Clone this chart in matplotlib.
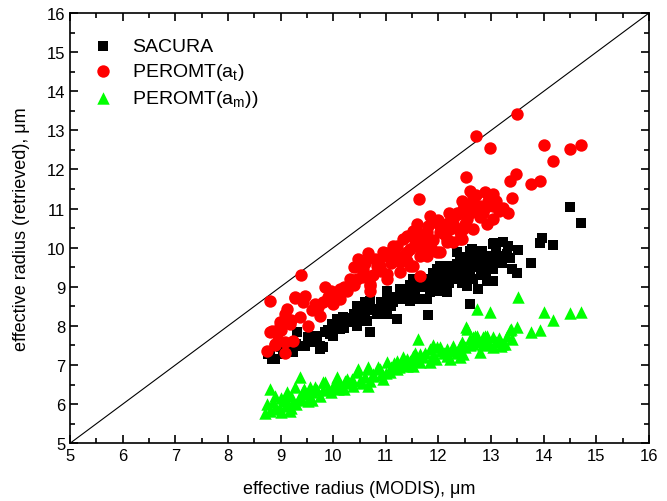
import numpy as np
import matplotlib
matplotlib.use('Agg')
import matplotlib.pyplot as plt
from matplotlib.ticker import MultipleLocator

plt.rcParams['font.family'] = ['Liberation Sans', 'DejaVu Sans']
plt.rcParams['mathtext.fontset'] = 'custom'
plt.rcParams['mathtext.rm'] = 'Liberation Sans'
plt.rcParams['mathtext.it'] = 'Liberation Sans'

# SACURA retrievals (x = MODIS radius, y = retrieved radius)
sacura_x = [8.77, 8.84, 8.90, 8.80, 9.05, 9.09, 9.18, 9.24, 9.32, 9.43, 9.47, 9.52,
            9.66, 9.70, 9.75, 9.75, 9.81, 9.85, 9.94, 10.00, 9.98, 10.08, 10.13, 10.19,
            10.32, 10.32, 10.32, 10.46, 10.46, 10.51, 10.51, 10.57, 10.65, 10.70, 10.70,
            10.84, 10.89, 11.03, 11.03, 11.03, 11.14, 11.22, 11.27, 11.41, 11.46, 11.52,
            11.60, 11.60, 11.79, 11.79, 11.81, 11.84, 11.98, 12.03, 12.03, 12.09, 12.17,
            12.17, 12.22, 12.36, 12.36, 12.41, 12.47, 12.55, 12.55, 12.55, 12.60, 12.60,
            12.64, 12.66, 12.76, 12.79, 12.79, 12.83, 12.93, 13.04, 13.04, 13.04, 13.04,
            13.06, 13.23, 13.33, 13.36, 13.40, 13.49, 13.52, 13.75, 13.92, 13.97, 14.18,
            14.49, 14.70,
            11.30, 11.50, 11.70, 11.90, 12.10, 12.30, 12.70, 12.90, 12.20, 11.10, 10.90,
            10.60, 12.45, 12.90, 13.15, 12.00, 11.65, 12.50, 12.80, 12.35, 11.95,
            9.00, 9.30, 9.55, 9.90, 10.10, 10.25, 10.40, 10.75, 10.95, 11.15, 11.35,
            11.55, 11.75, 11.95, 12.15, 12.25, 12.40, 12.45, 12.60, 12.70, 12.85, 12.95,
            13.00, 13.10, 13.20, 13.30, 12.50, 12.75, 11.90, 12.05, 11.45, 10.60, 10.20]
sacura_y = [7.28, 7.15, 7.15, 7.35, 7.28, 7.33, 7.35, 7.33, 7.84, 7.48, 7.48, 7.71,
            7.74, 7.61, 7.48, 7.40, 7.46, 7.84, 7.79, 7.74, 8.04, 8.17, 7.92, 8.22,
            8.12, 8.09, 8.17, 8.50, 7.99, 8.17, 8.48, 8.25, 8.12, 7.84, 8.63,
            8.30, 8.43, 8.30, 8.76, 8.89, 8.61, 8.17, 8.94, 8.94, 8.63, 9.19,
            9.07, 9.19, 9.19, 8.68, 8.28, 8.86, 9.45, 9.12, 9.53, 9.12, 8.86,
            9.37, 9.53, 9.58, 9.88, 9.70, 9.27, 9.19, 9.02, 9.53, 9.91, 8.55,
            9.96, 9.19, 8.94, 9.53, 9.63, 9.91, 9.14, 9.63, 9.45, 9.14, 10.09,
            10.12, 10.14, 10.04, 9.73, 9.45, 9.35, 9.94, 9.60, 10.12, 10.24, 10.06,
            11.04, 10.63,
            8.70, 8.85, 9.00, 9.05, 9.30, 9.40, 9.50, 9.70, 9.10, 8.50, 8.60,
            8.35, 9.45, 9.35, 9.80, 8.90, 8.70, 9.25, 9.30, 9.20, 9.25,
            7.45, 7.55, 7.60, 7.90, 8.05, 8.20, 8.30, 8.40, 8.45, 8.75, 8.80,
            8.95, 9.10, 9.20, 9.45, 9.25, 9.55, 9.10, 9.35, 9.70, 9.45, 9.80,
            9.55, 9.90, 9.60, 9.85, 9.75, 9.85, 9.35, 9.00, 9.05, 8.60, 7.95]

# PEROMT(a_t) retrievals
peromt_t_x = [8.75, 8.80, 8.80, 8.84, 8.90, 8.90, 8.94, 8.99, 8.99, 9.09, 9.09, 9.09,
              9.13, 9.18, 9.24, 9.28, 9.28, 9.37, 9.39, 9.43, 9.47, 9.52, 9.71, 9.75,
              9.85, 9.90, 9.94, 9.98, 10.00, 10.13, 10.13, 10.27, 10.32, 10.46, 10.48,
              10.57, 10.57, 10.61, 10.67, 10.70, 10.70, 10.70, 10.84, 10.89, 10.95, 10.95,
              11.03, 11.03, 11.03, 11.14, 11.22, 11.27, 11.27, 11.33, 11.33, 11.41, 11.46,
              11.46, 11.52, 11.52, 11.52, 11.60, 11.60, 11.63, 11.65, 11.65, 11.71, 11.71,
              11.79, 11.79, 11.81, 11.84, 11.90, 11.98, 12.03, 12.03, 12.03, 12.17, 12.17,
              12.22, 12.24, 12.28, 12.28, 12.38, 12.41, 12.41, 12.45, 12.47, 12.47, 12.53,
              12.55, 12.55, 12.60, 12.66, 12.66, 12.72, 12.72, 12.79, 12.79, 12.89, 12.93,
              12.97, 13.04, 13.04, 13.04, 13.23, 13.33, 13.36, 13.40, 13.48, 13.50, 13.75,
              13.92, 14.00, 14.18, 14.49, 14.70,
              9.00, 9.20, 9.60, 9.80, 10.05, 10.20, 10.40, 10.55, 10.75, 10.90, 11.10,
              11.20, 11.40, 11.55, 11.70, 11.90, 12.00, 12.10, 12.15, 12.30, 12.35, 12.50,
              12.60, 12.70, 12.85, 12.95, 12.20, 11.85, 11.40, 10.80, 10.40, 11.60, 12.45,
              12.65, 12.90, 13.10, 13.15, 9.65, 9.95, 10.60]
peromt_t_y = [7.35, 7.84, 8.63, 7.86, 7.51, 7.53, 7.79, 8.09, 8.00, 7.30, 7.58, 8.30,
              8.43, 8.04, 7.61, 8.71, 8.73, 8.22, 9.30, 8.61, 8.76, 7.99, 8.48, 8.25,
              8.99, 8.73, 8.76, 8.81, 8.55, 8.68, 8.94, 8.89, 9.19, 9.19, 9.71,
              9.37, 9.45, 9.27, 9.86, 9.07, 8.89, 9.02, 9.53, 9.53, 9.78, 9.88,
              9.86, 9.19, 9.32, 10.04, 10.04, 9.63, 9.37, 10.22, 9.78, 10.30, 9.53,
              9.96, 10.30, 10.42, 9.53, 10.42, 10.04, 11.24, 9.78, 9.27, 10.04, 10.22,
              10.40, 9.78, 10.55, 10.81, 10.65, 9.88, 10.55, 10.40, 9.88, 10.14, 10.22,
              10.47, 10.75, 10.73, 10.14, 10.86, 10.22, 10.40, 10.22, 10.98, 10.47, 11.80,
              11.06, 10.73, 11.45, 10.47, 11.16, 12.85, 11.34, 11.06, 10.78, 11.42, 10.60,
              12.54, 11.37, 11.06, 10.73, 11.01, 10.88, 11.70, 11.27, 11.88, 13.41, 11.62,
              11.70, 12.62, 12.21, 12.52, 12.62,
              7.90, 8.15, 8.40, 8.60, 8.80, 9.00, 9.05, 9.25, 9.30, 9.40, 9.60,
              9.80, 9.90, 10.10, 10.30, 10.20, 10.70, 10.35, 10.60, 10.55, 10.90, 10.60,
              10.90, 10.95, 10.90, 11.20, 10.90, 10.00, 9.65, 9.70, 9.50, 10.60, 11.20,
              11.30, 11.05, 11.20, 10.95, 8.55, 8.90, 9.60]

# PEROMT(a_m) retrievals
peromt_m_x = [8.71, 8.80, 8.80, 8.86, 8.99, 9.05, 9.13, 9.18, 9.24, 9.28, 9.37, 9.43,
              9.52, 9.56, 9.75, 9.81, 9.85, 10.00, 10.08, 10.13, 10.23, 10.27, 10.38, 10.46,
              10.48, 10.67, 10.67, 10.67, 10.76, 10.76, 10.89, 10.95, 11.03, 11.08, 11.22,
              11.22, 11.33, 11.41, 11.41, 11.52, 11.52, 11.62, 11.65, 11.65, 11.84, 11.84,
              11.98, 12.03, 12.17, 12.17, 12.22, 12.28, 12.41, 12.41, 12.47, 12.53, 12.55,
              12.60, 12.66, 12.70, 12.74, 12.74, 12.79, 12.85, 12.89, 12.93, 12.97, 13.04,
              13.04, 13.18, 13.27, 13.36, 13.37, 13.40, 13.50, 13.52, 13.75, 13.92, 14.00,
              14.18, 14.49, 14.70,
              8.90, 9.00, 9.10, 9.20, 9.30, 9.40, 9.50, 9.60, 9.70, 9.90, 10.10, 10.30,
              10.50, 10.60, 10.90, 11.10, 11.30, 11.70, 11.90, 12.10, 12.30, 12.60, 12.90,
              13.10,
              8.75, 8.90, 9.00, 9.10, 9.20, 9.35, 9.45, 9.60, 9.65, 9.80, 9.95, 10.05,
              10.20, 10.35, 10.55, 10.70, 10.85, 11.00, 11.15, 11.25, 11.45, 11.60, 11.75,
              11.95, 12.05, 12.25, 12.35, 12.50, 12.65, 12.75, 12.95, 13.15, 13.20, 13.30,
              12.45, 12.85, 11.55, 11.90]
peromt_m_y = [5.77, 5.82, 6.38, 6.05, 5.87, 6.07, 6.30, 5.82, 6.05, 6.43, 6.69, 6.33,
              6.07, 6.43, 6.20, 6.56, 6.56, 6.46, 6.69, 6.51, 6.59, 6.64, 6.46, 6.82,
              6.89, 6.89, 6.46, 6.94, 6.71, 6.76, 6.89, 6.64, 7.07, 6.82, 7.10,
              6.89, 7.20, 6.97, 7.15, 7.22, 6.97, 7.66, 7.28, 7.07, 7.40, 7.07,
              7.45, 7.45, 7.40, 7.22, 7.15, 7.48, 7.48, 7.20, 7.28, 7.97, 7.92,
              7.66, 7.71, 7.74, 8.43, 7.74, 7.33, 7.71, 7.74, 7.74, 8.35, 7.45,
              7.71, 7.48, 7.53, 7.89, 7.92, 7.66, 7.97, 8.73, 7.84, 7.89, 8.35,
              8.15, 8.32, 8.35,
              5.90, 6.15, 5.95, 6.20, 6.00, 6.10, 6.25, 6.30, 6.35, 6.40, 6.40, 6.55,
              6.60, 6.70, 6.75, 6.95, 7.00, 7.20, 7.25, 7.30, 7.35, 7.50, 7.55,
              7.60,
              6.00, 6.20, 5.80, 6.10, 5.90, 6.15, 6.40, 6.10, 6.45, 6.35, 6.30, 6.50,
              6.40, 6.65, 6.55, 6.60, 6.95, 6.80, 7.05, 6.95, 7.10, 7.15, 7.30,
              7.15, 7.35, 7.40, 7.30, 7.45, 7.55, 7.60, 7.60, 7.70, 7.55, 7.75,
              7.60, 7.50, 7.30, 7.50]

fig = plt.figure(figsize=(6.67, 5.02), dpi=100)
ax = fig.add_axes([0.105, 0.115, 0.868, 0.857])

ax.plot([5, 16], [5, 16], color='black', linewidth=0.8, zorder=1)
ax.scatter(sacura_x, sacura_y, marker='s', s=55, color='black', linewidths=0,
           label='SACURA', zorder=2)
ax.scatter(peromt_t_x, peromt_t_y, marker='o', s=80, color='#ff0000', linewidths=0,
           label='PEROMT(a$_\\mathregular{t}$)', zorder=3)
ax.scatter(peromt_m_x, peromt_m_y, marker='^', s=80, color='#00ff00', linewidths=0,
           label='PEROMT(a$_\\mathregular{m}$))', zorder=2)

ax.set_xlim(5, 16)
ax.set_ylim(5, 16)
ax.xaxis.set_major_locator(MultipleLocator(1))
ax.yaxis.set_major_locator(MultipleLocator(1))
ax.xaxis.set_minor_locator(MultipleLocator(0.5))
ax.yaxis.set_minor_locator(MultipleLocator(0.5))
ax.tick_params(which='both', direction='in', top=True, right=True, width=1.2, labelsize=12)
ax.tick_params(which='major', length=6)
ax.tick_params(which='minor', length=3.5)
for sp in ax.spines.values():
    sp.set_linewidth(1.2)

ax.set_xlabel('effective radius (MODIS), \u03bcm', fontsize=13, labelpad=12)
ax.set_ylabel('effective radius (retrieved), \u03bcm', fontsize=13, labelpad=12)

ax.legend(loc='upper left', frameon=False, fontsize=14, handletextpad=0.5,
          borderaxespad=0.3, labelspacing=0.3, markerscale=1.0,
          bbox_to_anchor=(0.0, 0.975))

fig.savefig('out.png', dpi=100)
